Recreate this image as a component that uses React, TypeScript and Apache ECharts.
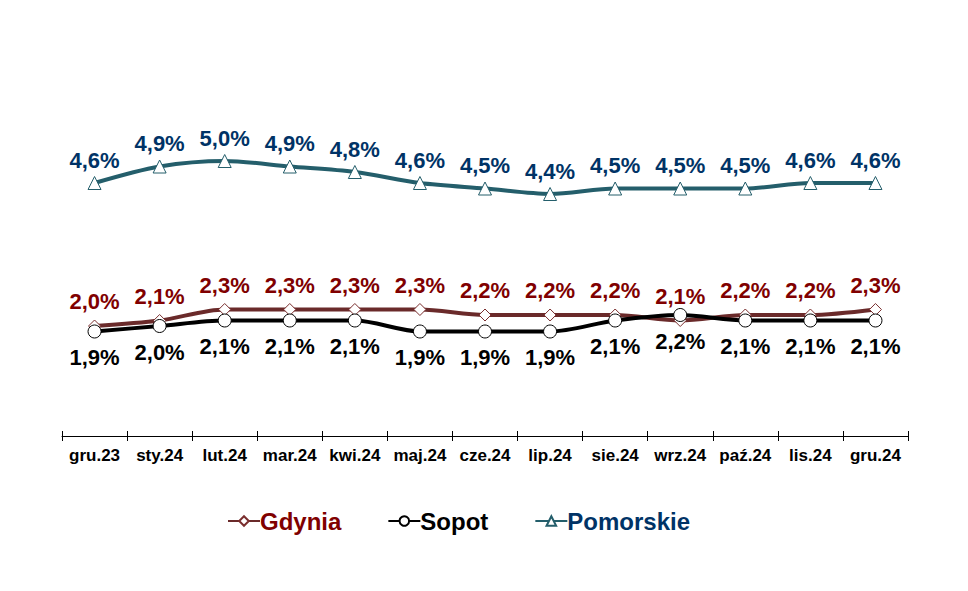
import React, { useEffect, useRef } from "react";
import * as echarts from "echarts";

const categories = ["gru.23", "sty.24", "lut.24", "mar.24", "kwi.24", "maj.24", "cze.24", "lip.24", "sie.24", "wrz.24", "paź.24", "lis.24", "gru.24"];
const gdynia = [2.0, 2.1, 2.3, 2.3, 2.3, 2.3, 2.2, 2.2, 2.2, 2.1, 2.2, 2.2, 2.3];
const sopot = [1.9, 2.0, 2.1, 2.1, 2.1, 1.9, 1.9, 1.9, 2.1, 2.2, 2.1, 2.1, 2.1];
const pomorskie = [4.6, 4.9, 5.0, 4.9, 4.8, 4.6, 4.5, 4.4, 4.5, 4.5, 4.5, 4.6, 4.6];

const fmt = (p: any) => p.value.toFixed(1).replace(".", ",") + "%";
const FONT = "'Liberation Sans', Arial, sans-serif";

export default function App() {
  const ref = useRef<HTMLDivElement>(null);
  useEffect(() => {
    const chart = echarts.init(ref.current!, null, { renderer: "svg" });
    const labelBase = { show: true, formatter: fmt, fontFamily: FONT, fontWeight: "bold" as const, fontSize: 22 };
    chart.setOption({
      animation: false,
      backgroundColor: "#ffffff",
      grid: { left: 62, right: 60, top: 106, bottom: 155 },
      xAxis: [
        {
          type: "category",
          data: categories,
          boundaryGap: true,
          axisLine: { show: true, lineStyle: { color: "#000", width: 1 } },
          axisTick: { show: true, length: 5, interval: 0, lineStyle: { color: "#000" } },
          axisLabel: { color: "#000", fontFamily: FONT, fontWeight: "bold", fontSize: 17, margin: 11, interval: 0, hideOverlap: false },
        },
        {
          type: "category",
          data: categories,
          position: "bottom",
          boundaryGap: true,
          axisLine: { show: false },
          axisTick: { show: true, inside: true, length: 5, interval: 0, lineStyle: { color: "#000" } },
          axisLabel: { show: false },
        },
      ],
      yAxis: { type: "value", min: 0, max: 6, show: false, splitLine: { show: false } },
      legend: {
        top: 504,
        left: 222,
        itemGap: 46,
        itemWidth: 32,
        itemHeight: 12,
        textStyle: { fontFamily: FONT, fontWeight: "bold", fontSize: 24, padding: [0, 0, 0, -5] },
        data: [
          { name: "Gdynia", textStyle: { color: "#800000" } },
          { name: "Sopot", textStyle: { color: "#000000" } },
          { name: "Pomorskie", textStyle: { color: "#003366" } },
        ],
      },
      series: [
        {
          name: "Gdynia",
          type: "line",
          data: gdynia,
          smooth: 0.3,
          symbol: "diamond",
          symbolSize: 12,
          lineStyle: { color: "#6A2A2A", width: 4 },
          itemStyle: { color: "#ffffff", borderColor: "#7A2E2E", borderWidth: 1 },
          label: { ...labelBase, position: "top", distance: 7, color: "#800000" },
          z: 3,
        },
        {
          name: "Sopot",
          type: "line",
          data: sopot,
          smooth: 0.3,
          symbol: "circle",
          symbolSize: 13,
          lineStyle: { color: "#000000", width: 4 },
          itemStyle: { color: "#ffffff", borderColor: "#000000", borderWidth: 1 },
          label: { ...labelBase, position: "bottom", distance: 8, color: "#000000" },
          z: 4,
        },
        {
          name: "Pomorskie",
          type: "line",
          data: pomorskie,
          smooth: 0.3,
          symbol: "triangle",
          symbolSize: 13,
          lineStyle: { color: "#245E6B", width: 4 },
          itemStyle: { color: "#ffffff", borderColor: "#245E6B", borderWidth: 1 },
          label: { ...labelBase, position: "top", distance: 5, color: "#003366" },
          z: 3,
        },
      ],
    });
    return () => chart.dispose();
  }, []);
  return <div ref={ref} style={{ position: "fixed", left: 0, top: 0, width: 968, height: 591 }} />;
}
